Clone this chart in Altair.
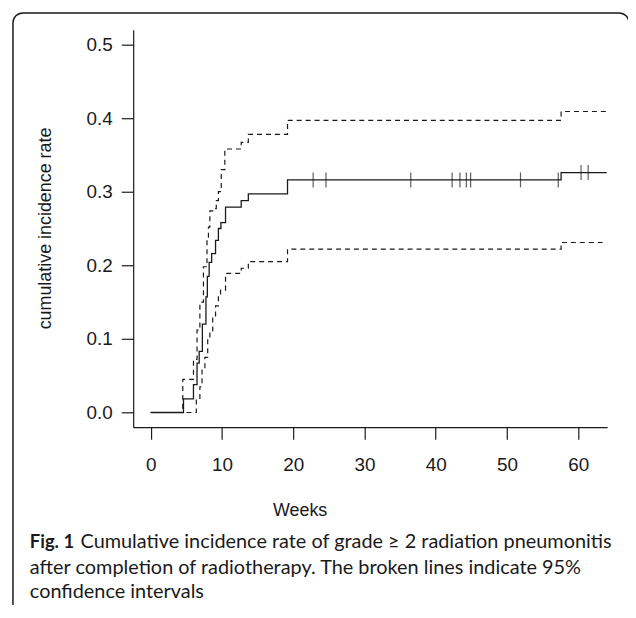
import altair as alt
import pandas as pd

# ---- data ----
est_t = [0, 4.6, 6.0, 6.5, 6.8, 7.25, 7.75, 7.95, 8.2, 8.55, 9.1, 9.5, 9.85, 10.5, 12.7, 13.7, 19.2, 57.6, 64.0]
est_v = [0, 0.0185, 0.038, 0.067, 0.083, 0.12, 0.157, 0.185, 0.204, 0.216, 0.234, 0.25, 0.258, 0.279, 0.288, 0.297, 0.316, 0.326, 0.326]

up_t = [0, 4.5, 6.0, 6.5, 6.9, 7.4, 7.9, 8.1, 8.3, 8.8, 9.2, 9.5, 9.9, 10.4, 12.7, 13.7, 19.2, 57.6, 64.0]
up_v = [0, 0.045, 0.072, 0.112, 0.15, 0.198, 0.235, 0.252, 0.274, 0.277, 0.288, 0.30, 0.33, 0.358, 0.367, 0.378, 0.397, 0.409, 0.409]

lo_t = [0, 6.4, 6.9, 7.2, 7.6, 8.0, 8.3, 8.7, 9.1, 9.5, 9.8, 10.5, 12.7, 13.7, 19.2, 57.6, 64.0]
lo_v = [0, 0.018, 0.035, 0.06, 0.075, 0.1, 0.11, 0.13, 0.145, 0.16, 0.166, 0.189, 0.196, 0.205, 0.222, 0.231, 0.231]

cens_t = [22.8, 24.6, 36.5, 42.3, 43.4, 44.3, 44.9, 51.9, 57.2, 60.4, 61.4]
cens_v = [0.316, 0.316, 0.316, 0.316, 0.316, 0.316, 0.316, 0.316, 0.316, 0.326, 0.326]

x_ticks = [0, 10, 20, 30, 40, 50, 60]
y_ticks = [0.0, 0.1, 0.2, 0.3, 0.4, 0.5]

y_title = "cumulative incidence rate"
x_title = "Weeks"
cap_bold = "Fig. 1"
cap_lines = [
    "Cumulative incidence rate of grade \u2265 2 radiation pneumonitis",
    "after completion of radiotherapy. The broken lines indicate 95%",
    "confidence intervals",
]

AX_FONT = "Liberation Sans"
CAP_FONT = "Lato"
INK = "#1a1a1a"

xs = alt.Scale(domain=[-2.46, 64.06], nice=False, zero=False)
ys = alt.Scale(domain=[-0.02, 0.52], nice=False, zero=False)

xax = alt.Axis(values=x_ticks, title=None, grid=False, tickSize=12, labelPadding=17,
               labelFontSize=19, labelFont=AX_FONT, labelColor=INK, domainColor=INK,
               tickColor=INK, domainWidth=1.2, tickWidth=1.2, format="d", labelFlush=False)
yax = alt.Axis(values=y_ticks, title=None, grid=False, tickSize=12, labelPadding=9,
               labelFontSize=19, labelFont=AX_FONT, labelColor=INK, domainColor=INK,
               tickColor=INK, domainWidth=1.2, tickWidth=1.2, format=".1f", labelFlush=False)

est_df = pd.DataFrame({"t": est_t, "v": est_v})
up_df = pd.DataFrame({"t": up_t, "v": up_v})
lo_df = pd.DataFrame({"t": lo_t, "v": lo_v})
cens_df = pd.DataFrame({"t": cens_t, "v": cens_v})

est = alt.Chart(est_df).mark_line(interpolate="step-after", color=INK, strokeWidth=1.3).encode(
    x=alt.X("t:Q", scale=xs, axis=xax), y=alt.Y("v:Q", scale=ys, axis=yax))
up = alt.Chart(up_df).mark_line(interpolate="step-after", color=INK, strokeWidth=1.2, strokeDash=[5, 4]).encode(
    x=alt.X("t:Q", scale=xs), y=alt.Y("v:Q", scale=ys))
lo = alt.Chart(lo_df).mark_line(interpolate="step-after", color=INK, strokeWidth=1.2, strokeDash=[5, 4]).encode(
    x=alt.X("t:Q", scale=xs), y=alt.Y("v:Q", scale=ys))
cens = alt.Chart(cens_df).mark_tick(orient="vertical", size=15, thickness=1.2, color=INK).encode(
    x=alt.X("t:Q", scale=xs), y=alt.Y("v:Q", scale=ys))

one = pd.DataFrame({"a": [0]})

frame = alt.Chart(one).mark_rect(fillOpacity=0, stroke=INK, strokeWidth=1.5, cornerRadius=10).encode(
    x=alt.value(-121), x2=alt.value(499), y=alt.value(-17), y2=alt.value(640))

def txt(s, x, y, **kw):
    return alt.Chart(pd.DataFrame({"s": [s]})).mark_text(**kw).encode(
        x=alt.value(x), y=alt.value(y), text="s:N")

ytitle = txt(y_title, -88, 200, angle=270, align="center", baseline="middle",
             font=AX_FONT, fontSize=18, color=INK)
xtitle = txt(x_title, 168, 484, align="center", baseline="middle",
             font=AX_FONT, fontSize=18, color=INK)
cap0 = txt(cap_bold, -104, 516, align="left", baseline="middle", font=CAP_FONT,
           fontSize=18.5, fontWeight="bold", color=INK)
cap1 = txt(cap_lines[0], -53, 516, align="left", baseline="middle", font=CAP_FONT,
           fontSize=20, color=INK)
cap2 = txt(cap_lines[1], -104, 542, align="left", baseline="middle", font=CAP_FONT,
           fontSize=20, color=INK)
cap3 = txt(cap_lines[2], -104, 566, align="left", baseline="middle", font=CAP_FONT,
           fontSize=20, color=INK)

chart = alt.layer(frame, lo, up, est, cens, ytitle, xtitle, cap0, cap1, cap2, cap3).properties(
    width=477, height=400,
    autosize=alt.AutoSizeParams(type="none"),
    padding={"left": 126, "top": 20, "right": 21, "bottom": 177},
    background="white",
).configure_view(strokeWidth=0)

chart.save("out.html", embed_options={"renderer": "svg", "actions": False})
